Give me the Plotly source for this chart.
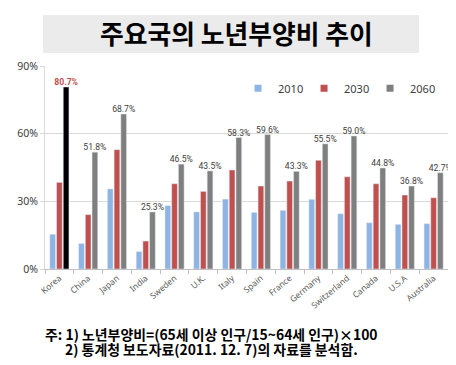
import plotly.graph_objects as go

countries = ["Korea", "China", "Japan", "India", "Sweden", "U.K.", "Italy", "Spain",
             "France", "Germany", "Switzerland", "Canada", "U.S.A", "Australia"]
v2010 = [15.4, 11.3, 35.5, 7.7, 28.1, 25.3, 31.0, 25.1, 26.0, 30.9, 24.5, 20.5, 19.8, 20.1]
v2030 = [38.4, 24.1, 52.9, 12.4, 37.8, 34.4, 43.9, 36.8, 39.0, 48.2, 40.9, 37.8, 32.8, 31.6]
v2060 = [80.7, 51.8, 68.7, 25.3, 46.5, 43.5, 58.3, 59.6, 43.3, 55.5, 59.0, 44.8, 36.8, 42.7]
years = ["2010", "2030", "2060"]
y_ticks = [0, 30, 60, 90]

title_text = "주요국의 노년부양비 추이"
note1 = "주: 1) 노년부양비=(65세 이상 인구/15~64세 인구)×100"
note2 = "2) 통계청 보도자료(2011. 12. 7)의 자료를 분석함."

BLUE = "#8db4e2"
RED = "#c0504d"
GRAY = "#7f7f7f"
FONT = "Noto Sans, Noto Sans CJK KR, sans-serif"
KFONT = "Noto Sans CJK KR, sans-serif"
LFONT = "Roboto, Noto Sans, sans-serif"
series_colors = [BLUE, RED, GRAY]

bar_colors_2060 = ["#000000" if c == "Korea" else GRAY for c in countries]
label_colors_2060 = [RED if c == "Korea" else "#404040" for c in countries]
labels_2060 = [f"<b>{v:.1f}%</b>" if c == "Korea" else f"{v:.1f}%"
               for c, v in zip(countries, v2060)]

fig = go.Figure()
fig.add_trace(go.Bar(name="2010", x=countries, y=v2010, marker_color=BLUE, showlegend=False))
fig.add_trace(go.Bar(name="2030", x=countries, y=v2030, marker_color=RED, showlegend=False))
fig.add_trace(go.Bar(
    name="2060", x=countries, y=v2060, marker_color=bar_colors_2060, showlegend=False,
    text=labels_2060, textposition="outside",
    textfont=dict(size=8.6, color=label_colors_2060, family=LFONT),
    constraintext="none", cliponaxis=False,
))
# legend entries (small square keys)
for yr, col in zip(years, series_colors):
    fig.add_trace(go.Scatter(name=yr, x=[None], y=[None], mode="markers",
                             marker=dict(symbol="square", size=7, color=col),
                             showlegend=True, hoverinfo="skip"))

# title background box (paper coordinates)
fig.add_shape(type="rect", xref="paper", yref="paper",
              x0=-0.005, x1=0.928, y0=1.064, y1=1.251,
              fillcolor="#ebebeb", line=dict(width=0), layer="below")

# The page body has an 8px default margin, so the figure is sized 448x357
fig.update_layout(
    width=448, height=357,
    margin=dict(l=37, r=8, t=58, b=96),
    paper_bgcolor="white", plot_bgcolor="white",
    barmode="group", bargap=0.3, bargroupgap=0.15,
    font=dict(family=FONT, color="#404040"),
    showlegend=True,
    legend=dict(orientation="h", x=0.479, y=0.89, xanchor="left", yanchor="middle",
                font=dict(size=11, color="#404040"), bgcolor="rgba(0,0,0,0)",
                traceorder="normal", itemwidth=30, entrywidth=21,
                entrywidthmode="pixels"),
    annotations=[
        dict(text=f"<b>{title_text}</b>", xref="paper", yref="paper",
             x=0.474, y=1.165, xanchor="center", yanchor="middle", showarrow=False,
             font=dict(family=KFONT, size=25.8, color="#000000", weight=900)),
        dict(text=f"<b>{note1}</b>", xref="paper", yref="paper", x=-0.005, y=-0.322,
             xanchor="left", yanchor="middle", showarrow=False, align="left",
             font=dict(family=KFONT, size=13.9, color="#000000")),
        dict(text=f"<b>{note2}</b>", xref="paper", yref="paper", x=0.045, y=-0.394,
             xanchor="left", yanchor="middle", showarrow=False, align="left",
             font=dict(family=KFONT, size=13.9, color="#000000")),
    ],
)
fig.update_xaxes(
    tickangle=-40, tickfont=dict(size=8.5, color="#595959"),
    showline=True, linecolor="#bfbfbf", linewidth=1,
    ticks="outside", tickson="boundaries", ticklen=4, tickcolor="#bfbfbf",
)
fig.update_yaxes(
    range=[0, 90], tickvals=y_ticks, ticktext=[f"{t}%" for t in y_ticks],
    tickfont=dict(size=10.5, color="#404040"),
    showgrid=True, gridcolor="#d9d9d9", gridwidth=1,
    showline=True, linecolor="#d9d9d9", zeroline=False,
    ticks="outside", ticklen=4, tickcolor="#d9d9d9",
)

# hide page scrollbars so the right edge of the figure is not covered
fig.write_html("out.html",
               post_script="document.documentElement.style.overflow='hidden';"
                           "document.body.style.overflow='hidden';")
